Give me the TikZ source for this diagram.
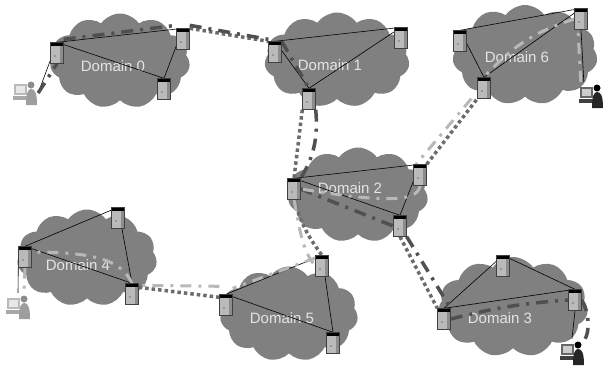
\documentclass[tikz,border=0pt]{standalone}
\usepackage{fontspec}
\newfontfamily\labelfont{Liberation Sans}
\usetikzlibrary{shapes.symbols}

\definecolor{cloudgray}{HTML}{808080}
\definecolor{labelgray}{HTML}{E4E4E4}
\definecolor{srvfront}{HTML}{BABABA}
\definecolor{srvside}{HTML}{8C8C8C}
\definecolor{darkroute}{HTML}{505050}
\definecolor{lightroute}{HTML}{B8B8B8}
\definecolor{dotlink}{HTML}{6C6C6C}
\colorlet{userdark}{black}
\colorlet{userlight}{black!45}

\pgfdeclarelayer{clouds}
\pgfdeclarelayer{links}
\pgfsetlayers{clouds,links,main}

% little person sitting at a computer
\newcommand\usericon[1]{%
  \begin{scope}[shift={(path picture bounding box.center)},x=1pt,y=1pt]
    \fill[#1!60] (-11,-2) rectangle (2,9);
    \fill[#1!20] (-9,0) rectangle (0,7);
    \fill[#1!75] (-12,-7) rectangle (4,-3);
    \fill[#1] (6,8) circle (3.5);
    \fill[#1!85] (1,-12) .. controls (1,0) and (3,4) .. (6,4)
      .. controls (10,4) and (12,0) .. (12,-12) -- cycle;
  \end{scope}}

\tikzset{
  cloudarea/.style={cloud, cloud puffs=11, cloud puff arc=110,
    cloud ignores aspect, fill=cloudgray, draw=none, inner sep=0pt},
  domtext/.style={text=labelgray, inner sep=0pt,
    font=\labelfont\fontsize{15}{18}\selectfont},
  server/.style={rectangle, draw=black!75, line width=0.4pt, fill=srvfront,
    minimum width=13pt, minimum height=21pt, inner sep=0pt,
    path picture={
      \fill[srvside] ([xshift=-4pt]path picture bounding box.north east)
        rectangle (path picture bounding box.south east);
      \fill[black] (path picture bounding box.north west)
        rectangle ([yshift=-3.5pt]path picture bounding box.north east);
      \fill[black!55] ([xshift=-2pt,yshift=-3pt]path picture bounding box.center)
        circle (0.8pt);
    }},
  person/.style={minimum width=26pt, minimum height=28pt, inner sep=0pt,
    path picture={\usericon{#1}}},
  intra/.style={black, line width=0.6pt},
  inter/.style={dotlink, line width=3.5pt, dash pattern=on 3.5pt off 3pt},
  routedark/.style={darkroute, line width=3.5pt,
    dash pattern=on 12pt off 7pt on 3pt off 7pt},
  routelight/.style={lightroute, line width=3pt,
    dash pattern=on 11pt off 7pt on 3pt off 7pt},
}

\begin{document}
\begin{tikzpicture}[x=1pt,y=-1pt]
  \useasboundingbox (0,0) rectangle (603,368);

  % the seven domains
  \begin{pgfonlayer}{clouds}
    \foreach \n/\cx/\cy/\w/\h in {0/120/61/140/95, 1/337/60/145/95,
        6/525/55/145/100, 2/358/195/140/95, 4/87/258/140/97,
        5/289/314/138/95, 3/513/307/150/100}
      \node[cloudarea, minimum width=\w pt, minimum height=\h pt] (d\n) at (\cx,\cy) {};
    \foreach \n/\lx/\ly in {0/113/66, 1/330/65, 6/517/57, 2/350/188,
        4/78/265, 5/282/318, 3/500/318}
      \node[domtext] (t\n) at (\lx,\ly) {Domain \n};
  \end{pgfonlayer}

  % servers
  \foreach \name/\px/\py in {s0a/57/53, s0b/183/39, s0c/164/89,
      s1a/275/52, s1b/401/38, s1c/309/99,
      s6a/460/41, s6b/581/19, s6c/484/88,
      s2a/294/189, s2b/420/175, s2c/400/226,
      s4a/25/257, s4b/118/218, s4c/132/294,
      s5a/226/305, s5b/322/266, s5c/333/343,
      s3a/444/319, s3b/503/266, s3c/575/300}
    \node[server] (\name) at (\px,\py) {};

  % end users
  \node[person=userlight] (u0) at (25,93) {};
  \node[person=userdark] (u6) at (591,96) {};
  \node[person=userlight] (u4) at (18,307) {};
  \node[person=userdark] (u3) at (572,353) {};

  \begin{pgfonlayer}{links}
    % links inside each domain
    \foreach \a/\b in {s0a/s0b, s0a/s0c, s0b/s0c, s1a/s1b, s1a/s1c, s1b/s1c,
        s6a/s6b, s6a/s6c, s6b/s6c, s2a/s2b, s2a/s2c, s2b/s2c,
        s4a/s4b, s4a/s4c, s4b/s4c, s5a/s5b, s5a/s5c, s5b/s5c,
        s3a/s3b, s3b/s3c, s3a/s3c}
      \draw[intra] (\a.north) -- (\b.north);
    \draw[intra] (u0.east) -- (s0a.north);
    \draw[intra] ([xshift=6pt]u6.north west) -- (s6b.south);
    \draw[intra] (s4a.south west) -- (u4.north);
    \draw[intra] (s3c.south) -- (u3.north);

    % links between domains
    \draw[inter] (s0b.north east) -- (s1a.north west);
    \draw[inter] (s1c.south west) -- (s2a.north);
    \draw[inter] (s2a.south) to[bend right=10] (s5b.north);
    \draw[inter] ([yshift=-4pt]s4c.north east) -- ([yshift=-3pt]s5a.north west);
    \draw[inter] (s2b.north east) -- (s6c.south west);
    \draw[inter] (s2c.south) -- (s3a.north west);

    % route from domain 0 to domain 3
    \draw[routedark] (u0.east) -- (s0a.south)
      ([yshift=3pt]s0a.north east) -- ([yshift=3pt]s0b.north west)
      ([yshift=3pt]s0b.north east) -- ([yshift=2pt]s1a.north west)
      (s1a.north east) -- (s1c.north)
      (s1c.south east) .. controls (318,135) and (315,155) .. (s2a.north east)
      (s2a.east) -- (s2c.west)
      (s2c.south east) -- (s3a.north east)
      (s3a.east) to[bend left=5] (s3c.west)
      (s3c.east) .. controls (589,312) and (590,330) .. (u3.north east);

    % route from domain 6 to domain 4
    \draw[routelight] ([xshift=3pt]u6.north west) -- ([xshift=-3pt]s6b.south)
      (s6b.west) to[bend right=15] (s6c.north)
      ([xshift=-6pt]s6c.south west) -- ([xshift=-4pt]s2b.north)
      (s2b.south) .. controls (418,205) and (370,200) .. (s2a.east)
      (s2a.south) .. controls (300,230) and (302,250) .. (s5b.west)
      ([yshift=8pt]s5b.west) -- ([yshift=6pt]s5a.north east)
      ([yshift=8pt]s5a.north west) -- ([yshift=-2pt]s4c.north east)
      (s4c.north) .. controls (122,262) and (100,252) .. ([yshift=5pt]s4a.east)
      (s4a.south) -- ([xshift=6pt]u4.north);
  \end{pgfonlayer}
\end{tikzpicture}
\end{document}
